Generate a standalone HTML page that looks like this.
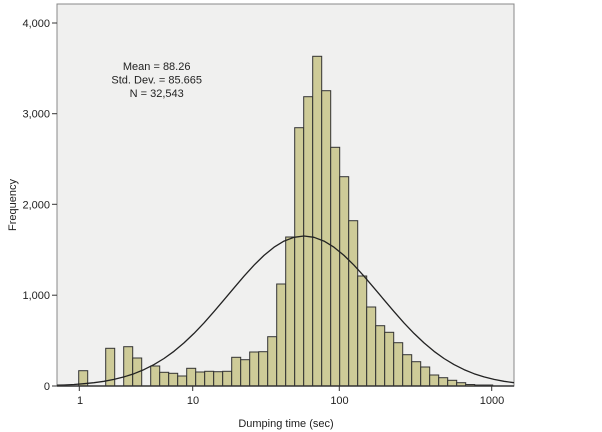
<!DOCTYPE html>
<html><head><meta charset="utf-8"><style>
html,body{margin:0;padding:0;background:#fff;}
svg{display:block;font-family:"Liberation Sans",Arial,sans-serif;}
</style></head><body>
<svg width="602" height="432" viewBox="0 0 602 432" xmlns="http://www.w3.org/2000/svg">
<rect x="57" y="4" width="457" height="382" fill="#f0f0ef" stroke="#888" stroke-width="1"/>
<g fill="#cecb98" stroke="#333" stroke-width="1">
<rect x="78.7" y="370.7" width="9" height="15.3"/>
<rect x="105.7" y="348.3" width="9" height="37.7"/>
<rect x="123.7" y="346.7" width="9" height="39.3"/>
<rect x="132.7" y="358" width="9" height="28"/>
<rect x="150.7" y="366" width="9" height="20"/>
<rect x="159.7" y="372.3" width="9" height="13.7"/>
<rect x="168.7" y="373.3" width="9" height="12.7"/>
<rect x="177.7" y="376" width="9" height="10"/>
<rect x="186.7" y="368.3" width="9" height="17.7"/>
<rect x="195.7" y="372" width="9" height="14"/>
<rect x="204.7" y="371.3" width="9" height="14.7"/>
<rect x="213.7" y="371.7" width="9" height="14.3"/>
<rect x="222.7" y="371.3" width="9" height="14.7"/>
<rect x="231.7" y="357.3" width="9" height="28.7"/>
<rect x="240.7" y="359.7" width="9" height="26.3"/>
<rect x="249.7" y="352" width="9" height="34"/>
<rect x="258.7" y="351.7" width="9" height="34.3"/>
<rect x="267.7" y="336.7" width="9" height="49.3"/>
<rect x="276.7" y="284" width="9" height="102"/>
<rect x="285.7" y="237" width="9" height="149"/>
<rect x="294.7" y="127.7" width="9" height="258.3"/>
<rect x="303.7" y="96.7" width="9" height="289.3"/>
<rect x="312.7" y="56.3" width="9" height="329.7"/>
<rect x="321.7" y="90.7" width="9" height="295.3"/>
<rect x="330.7" y="147.3" width="9" height="238.7"/>
<rect x="339.7" y="176.7" width="9" height="209.3"/>
<rect x="348.7" y="220.7" width="9" height="165.3"/>
<rect x="357.7" y="276" width="9" height="110"/>
<rect x="366.7" y="307" width="9" height="79"/>
<rect x="375.7" y="325.7" width="9" height="60.3"/>
<rect x="384.7" y="332.3" width="9" height="53.7"/>
<rect x="393.7" y="342.7" width="9" height="43.3"/>
<rect x="402.7" y="354.7" width="9" height="31.3"/>
<rect x="411.7" y="361.7" width="9" height="24.3"/>
<rect x="420.7" y="367" width="9" height="19"/>
<rect x="429.7" y="375" width="9" height="11"/>
<rect x="438.7" y="377.7" width="9" height="8.3"/>
<rect x="447.7" y="380.3" width="9" height="5.7"/>
<rect x="456.7" y="382.7" width="9" height="3.3"/>
<rect x="465.7" y="384.5" width="9" height="1.5"/>
<rect x="474.7" y="385" width="9" height="1"/>
<rect x="483.7" y="385" width="9" height="1"/>
</g>
<polyline fill="none" stroke="#222" stroke-width="1.3" stroke-linejoin="round" points="57,385.2 64,385 74,384.5 84,383.7 94,382.7 104,381.3 114,379.4 124,376.9 134,373.7 144,369.6 154,364.6 164,358.5 174,351.3 184,342.9 194,333.4 204,322.9 214,311.6 224,299.8 234,287.9 244,276.2 254,265.2 264,255.4 274,247.2 284,241.1 294,237.3 304,236 314,237.3 324,241.1 334,247.2 344,255.4 354,265.2 364,276.2 374,287.9 384,299.8 394,311.6 404,322.9 414,333.4 424,342.9 434,351.3 444,358.5 454,364.6 464,369.6 474,373.7 484,376.9 494,379.4 504,381.3 514,382.7"/>
<line x1="57" y1="386" x2="514" y2="386" stroke="#333" stroke-width="1.5"/>
<g stroke="#333" stroke-width="1">
<line x1="52" y1="23" x2="57" y2="23"/><line x1="52" y1="113.7" x2="57" y2="113.7"/>
<line x1="52" y1="204.3" x2="57" y2="204.3"/><line x1="52" y1="295.2" x2="57" y2="295.2"/>
<line x1="52" y1="386" x2="57" y2="386"/>
<line x1="79.3" y1="386" x2="79.3" y2="391"/><line x1="192.7" y1="386" x2="192.7" y2="391"/>
<line x1="339.3" y1="386" x2="339.3" y2="391"/><line x1="491.7" y1="386" x2="491.7" y2="391"/>
</g>
<g font-size="11" fill="#222" text-anchor="end">
<text x="50" y="27">4,000</text><text x="50" y="117.7">3,000</text>
<text x="50" y="208.3">2,000</text><text x="50" y="299.2">1,000</text><text x="50" y="390">0</text>
</g>
<g font-size="11" fill="#222" text-anchor="middle">
<text x="80" y="404">1</text><text x="193" y="404">10</text>
<text x="339.5" y="404">100</text><text x="492" y="404">1000</text>
<text x="286" y="427">Dumping time (sec)</text>
<text x="156.7" y="70">Mean = 88.26</text>
<text x="156.7" y="83.5">Std. Dev. = 85.665</text>
<text x="156.7" y="97">N = 32,543</text>
<text transform="translate(16,205) rotate(-90)">Frequency</text>
</g>
</svg>
</body></html>
